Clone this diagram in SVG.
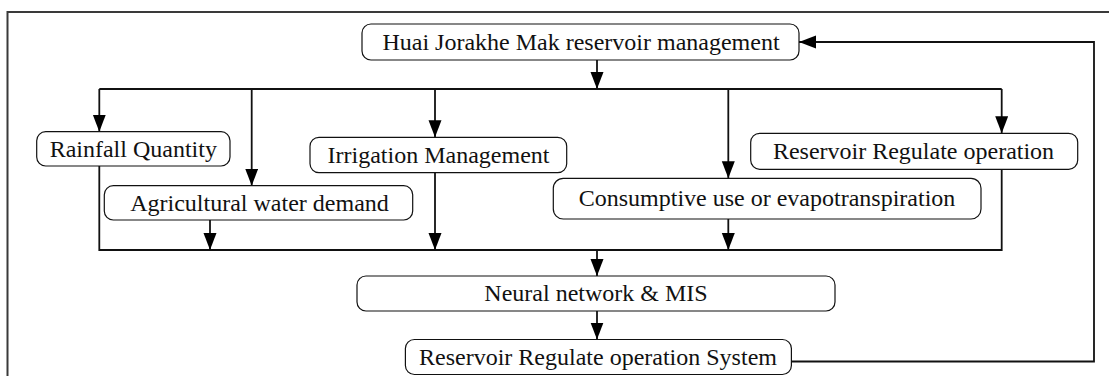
<svg xmlns="http://www.w3.org/2000/svg" width="1109" height="376" viewBox="0 0 1109 376">
<style>
.box{fill:#fff;stroke:#111;stroke-width:1.2}
.lbl{font-family:"Liberation Serif","Times New Roman",serif;font-size:24px;fill:#111;text-anchor:middle}
.ln{fill:none;stroke:#111;stroke-width:1.8}
.frame{fill:none;stroke:#3a3a3a;stroke-width:2}
</style>
<defs>
<marker id="ah" markerUnits="userSpaceOnUse" markerWidth="18" markerHeight="14" refX="17" refY="6.5" orient="auto">
<path d="M0,0 L17,6.5 L0,13 z" fill="#000"/>
</marker>
</defs>
<rect class="frame" x="7.5" y="12" width="1200" height="400"/>
<g id="connectors">
<path class="ln" d="M597,60 V89" marker-end="url(#ah)"/>
<path class="ln" d="M99.3,89 H1001.7"/>
<path class="ln" d="M99.3,89 V131.7" marker-end="url(#ah)"/>
<path class="ln" d="M251.7,89 V185.7" marker-end="url(#ah)"/>
<path class="ln" d="M435,89 V137.3" marker-end="url(#ah)"/>
<path class="ln" d="M728.3,89 V178.3" marker-end="url(#ah)"/>
<path class="ln" d="M1001.7,89 V133.3" marker-end="url(#ah)"/>
<path class="ln" d="M99.3,166 V250 H1001.7 V169.3"/>
<path class="ln" d="M210,220 V250" marker-end="url(#ah)"/>
<path class="ln" d="M435,172.7 V250" marker-end="url(#ah)"/>
<path class="ln" d="M728.3,219 V250" marker-end="url(#ah)"/>
<path class="ln" d="M597,250 V276" marker-end="url(#ah)"/>
<path class="ln" d="M597,311 V339.5" marker-end="url(#ah)"/>
<path class="ln" d="M791.5,361.5 H1094 V42 H799" marker-end="url(#ah)"/>
</g>
<g id="n-top">
<rect class="box" x="362" y="24" width="437" height="36" rx="9"/>
<text class="lbl" x="581" y="49.5">Huai Jorakhe Mak reservoir management</text>
</g>
<g id="n-rainfall">
<rect class="box" x="36.7" y="131.7" width="193.3" height="34.3" rx="9"/>
<text class="lbl" x="133.3" y="156.5">Rainfall Quantity</text>
</g>
<g id="n-irrigation">
<rect class="box" x="310" y="137.3" width="256.7" height="35.4" rx="9"/>
<text class="lbl" x="438.5" y="162.5">Irrigation Management</text>
</g>
<g id="n-reservoir-op">
<rect class="box" x="750.7" y="133.3" width="327" height="36" rx="9"/>
<text class="lbl" x="913.5" y="158.5">Reservoir Regulate operation</text>
</g>
<g id="n-agricultural">
<rect class="box" x="104.3" y="185.7" width="308.4" height="34.3" rx="9"/>
<text class="lbl" x="259.5" y="210.5">Agricultural water demand</text>
</g>
<g id="n-consumptive">
<rect class="box" x="553.3" y="178.3" width="427.7" height="40.7" rx="10"/>
<text class="lbl" x="767" y="206">Consumptive use or evapotranspiration</text>
</g>
<g id="n-neural">
<rect class="box" x="357" y="276" width="478" height="35" rx="9"/>
<text class="lbl" x="596" y="301">Neural network &amp; MIS</text>
</g>
<g id="n-system">
<rect class="box" x="405.4" y="339.5" width="386" height="35" rx="9"/>
<text class="lbl" x="598" y="364.5">Reservoir Regulate operation System</text>
</g>
</svg>
